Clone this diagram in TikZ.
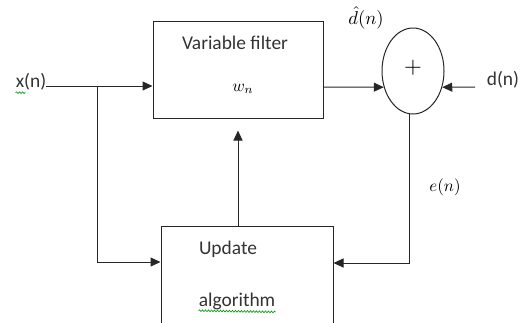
\documentclass[tikz,border=0pt]{standalone}
\usepackage{fontspec}
\setmainfont{Carlito}
\usetikzlibrary{arrows.meta,shapes.geometric,decorations.pathmorphing}

\begin{document}
\begin{tikzpicture}[x=1bp,y=-1bp,
  wire/.style={line width=1bp, draw=black!85},
  arr/.style={wire, -{Triangle[length=10bp,width=9bp]}},
  blockbox/.style={draw=black!85, line width=1bp, rectangle, inner sep=0pt},
  txt/.style={inner sep=0pt, font=\fontsize{19.5}{21}\selectfont, text=black!80},
  mlab/.style={inner sep=0pt, scale=1.7},
  squiggle/.style={draw=green!60!black, line width=0.6bp,
    decorate, decoration={snake, amplitude=0.9bp, segment length=3bp}}]

  \useasboundingbox (0,0) rectangle (523,322);
  \clip (0,0) rectangle (523,322);

  % blocks
  \node[blockbox, minimum width=170bp, minimum height=97bp] (filter) at (238,69.5) {};
  \node[blockbox, minimum width=172bp, minimum height=120bp] (update) at (247,286) {};
  \node[draw=black!85, line width=1bp, ellipse, minimum width=62bp, minimum height=86bp, inner sep=0pt] (sum) at (413,71) {};

  % texts
  \node[txt] (vf) at (235,43) {Variable filter};
  \node[mlab] (wn) at (243,89) {$w_n$};
  \node[inner sep=0pt, scale=2.3] (plus) at (413,68) {$+$};
  \node[txt] (up) at (228,249) {Update};
  \node[txt] (alg) at (237,301) {algorithm};
  \node[txt] (xn) at (31,82) {x(n)};
  \node[txt] (dn) at (503,80) {d(n)};
  \node[mlab, scale=1.1] (dhat) at (366,18) {$\hat{d}(n)$};
  \node[mlab] (en) at (445,187) {$e(n)$};

  % spell-check underlines
  \draw[squiggle] ([yshift=-2bp]xn.south west) -- ++(10,0);
  \draw[squiggle] ([yshift=-1bp]alg.south west) -- (alg.south east |- 0,312);

  % connectors
  \coordinate (br) at (97,86);
  \coordinate (ub) at (97,262);
  \coordinate (fy) at (0,87);
  \coordinate (eb) at (0,263);
  \coordinate (dstart) at (475,87);

  \draw[wire] (xn.east |- br) -- (br);
  \draw[arr] (br) -- (filter.west |- br);
  \draw[arr] (br) -- (ub) -- (update.west |- ub);
  \draw[arr] (filter.east |- fy) -- (sum.209);
  \draw[arr] (dstart) -- (sum.331);
  \draw[arr] (sum.265) |- (update.east |- eb);
  \draw[arr, shorten >=12bp] (update.north -| filter.south) -- (filter.south);
\end{tikzpicture}
\end{document}
